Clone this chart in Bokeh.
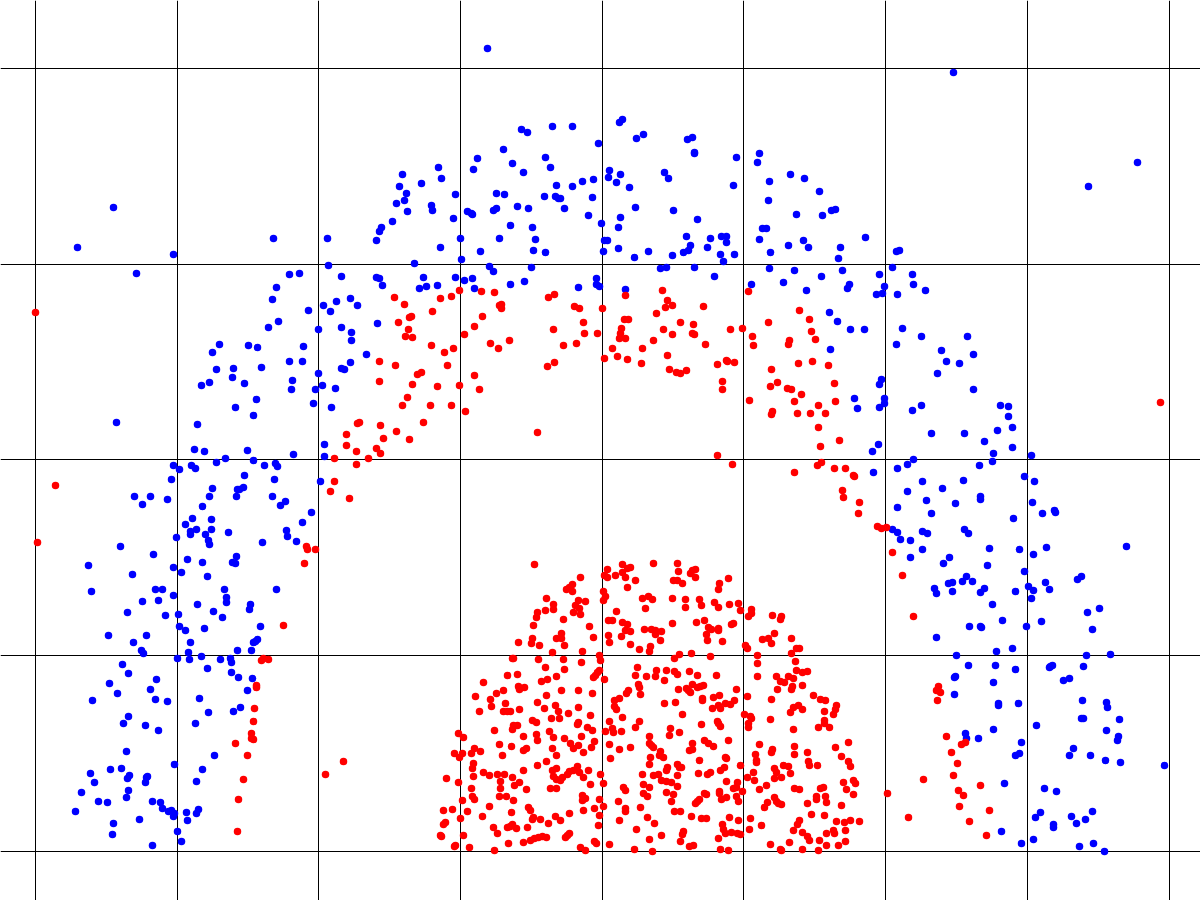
from bokeh.plotting import figure
from bokeh.models import Range1d, FixedTicker
from bokeh.embed import file_html
from bokeh.resources import INLINE

x_ticks = [35, 177, 318, 460, 602, 743, 885, 1027, 1169]
y_ticks = [68, 264, 459, 655, 851]

blue_points = [
(113,207),(77,247),(173,254),(136,273),(273,238),(289,274),(299,273),(276,287),(272,299),(278,321),(268,327),
(487,48),(521,129),(527,132),(552,126),(572,126),(598,143),(503,149),(477,158),(473,169),(512,163),(523,172),(545,157),(550,167),
(438,167),(441,178),(402,174),(399,186),(421,183),(406,193),(404,200),(396,203),(407,211),(431,205),(432,210),(455,194),(453,218),(467,211),(471,213),(472,214),
(496,193),(504,194),(496,208),(493,210),(517,206),(528,208),(544,196),(555,196),(558,198),(560,198),(556,185),(572,186),(582,181),(593,179),(592,197),(564,208),(588,215),
(392,221),(381,227),(379,231),(376,240),(327,238),(460,238),(440,247),(461,259),(480,251),(499,238),(510,225),(532,227),(535,239),(533,250),(545,252),
(328,265),(414,263),(489,266),(493,271),(531,267),(341,276),(376,277),(379,278),(382,285),(423,277),(419,288),(426,286),(437,285),(455,277),(464,280),(472,278),(474,288),(510,284),(524,281),(596,278),(596,284),(599,286),(578,287),
(336,301),(350,298),(357,305),(323,305),(330,311),(308,310),(318,329),(341,327),(377,323),
(619,122),(622,119),(636,138),(643,134),(687,139),(692,137),(694,152),(694,153),(736,157),(759,153),(757,162),(790,174),(804,178),(769,181),(819,191),(768,200),(733,185),(664,172),(668,178),(609,170),(608,177),(620,174),(616,182),(629,187),(635,207),(673,210),(697,219),(620,217),(618,227),(601,223),
(796,214),(822,215),(831,210),(835,209),(762,228),(766,228),(759,239),(803,240),(788,245),(808,247),(770,252),(840,247),(865,237),(838,258),(896,251),(899,250),
(604,240),(607,240),(603,251),(618,248),(634,257),(648,251),(672,255),(683,252),(688,250),(690,245),(686,236),(710,238),(707,247),(721,236),(726,236),(726,242),(720,254),(734,254),(723,261),
(660,268),(666,267),(694,267),(714,276),(769,268),(794,270),(821,276),(842,270),(879,274),(892,267),(783,282),(751,284),(806,290),(849,284),(847,288),(884,286),(882,293),(876,294),(897,294),(625,289),
(829,312),(837,321),(850,329),(864,329),(902,328),
(953,72),(1137,162),(1088,186),(912,274),(913,284),(925,290),
(219,344),(212,352),(248,345),(257,347),(289,361),(302,361),(303,346),(261,367),(233,368),(216,369),(232,377),(209,382),(201,385),(244,383),(292,380),(291,389),(256,399),(235,407),(253,415),(197,424),(116,422),
(194,449),(204,451),(247,450),(293,454),(225,458),(216,462),(253,460),(264,465),(275,463),(277,466),(173,465),(179,469),(191,465),(195,468),(171,479),(244,475),(274,479),(212,488),(209,496),(243,487),(239,489),(237,489),(236,496),(272,496),(285,501),(280,505),(134,496),(150,496),(142,504),(167,499),(202,506),
(211,519),(192,518),(185,524),(196,529),(190,531),(190,534),(211,529),(205,534),(208,540),(209,544),(228,532),(176,537),(286,530),(287,536),(296,541),(262,542),(302,522),
(120,546),(153,554),(88,565),(187,559),(202,562),(236,556),(232,562),(235,563),(173,567),(181,572),(132,574),(207,576),(91,591),(155,589),(162,589),(173,595),(142,601),(158,600),(224,589),(226,597),(226,602),(197,604),(250,604),(249,609),(276,589),(213,611),(222,617),(127,612),(165,615),(178,614),(179,626),(204,628),(260,626),(185,630),
(351,332),(351,340),(366,354),(350,362),(341,368),(344,369),(318,373),(322,385),(315,389),(335,388),(313,403),(331,407),(324,444),(324,456),(320,481),(311,512),
(830,349),(896,344),(881,379),(879,384),(854,398),(884,398),(884,403),(879,407),(857,408),(878,444),(872,451),(873,472),(897,468),(897,507),(892,529),(897,532),(900,539),
(921,336),(967,336),(941,350),(973,354),(946,361),(959,363),(937,373),(973,389),(921,405),(912,410),(1000,405),(1008,406),(1008,416),(1012,427),(997,430),(931,433),(964,433),(984,441),(1012,447),(993,453),(1031,455),(913,459),(907,464),(992,461),(979,465),
(1024,476),(1034,481),(922,481),(963,480),(942,488),(907,491),(926,500),(955,503),(980,496),(980,499),(1032,502),(1042,513),(1054,510),(1055,512),(931,513),(1013,518),(1126,546),
(922,531),(927,533),(964,529),(968,533),(910,540),(922,549),(989,548),(1019,549),(1046,547),(1033,554),(910,557),(949,557),(943,563),(987,565),(1024,571),(966,576),(962,581),(972,581),(948,583),(952,582),(934,588),(936,593),(952,591),(984,588),(980,592),(1015,591),(1028,586),(1033,590),(1045,582),(1049,589),(1031,598),(992,604),(1077,579),(1081,576),(1087,612),(1099,608),(1002,620),(1041,621),(969,626),(980,626),(981,627),(1026,626),(1092,629),
(936,637),(1012,648),(996,651),(956,655),(1086,655),(1110,654),(968,665),(995,665),(1015,669),(1049,667),(1052,665),(1050,666),(1083,666),(1069,678),(1063,680),(955,676),(954,677),(993,682),(954,694),(998,703),(998,705),(1018,703),(1082,700),(1106,702),(1107,707),(1081,718),(1083,718),(1119,719),(1036,725),(1106,730),(993,729),(965,733),(966,738),(978,738),(1118,736),(1117,740),(1021,742),(1073,748),(1019,753),(1015,755),(1069,755),(1090,755),(1105,760),(1120,762),(1164,765),(1004,783),(1044,788),(1056,791),(1040,812),(1035,817),(1092,811),(1071,816),(1085,819),(1076,823),(1053,824),(1053,827),(1001,831),(1033,839),(1021,843),(1093,843),(1079,846),(1104,851),
(108,635),(146,635),(133,642),(190,642),(141,650),(143,653),(188,652),(201,656),(177,658),(189,659),(237,650),(251,650),(253,642),(255,641),(257,639),(220,659),(230,658),(231,662),(122,664),(207,668),(128,673),(231,672),(238,677),(252,678),(156,679),(109,683),(150,689),(247,690),(117,693),(92,700),(155,699),(167,701),(199,698),(240,707),(233,711),(208,712),(128,716),(123,723),(145,725),(158,730),(195,723),(126,751),(214,755),(174,764),(121,768),(110,769),(202,769),(90,773),(129,775),(127,778),(147,776),(146,777),(145,782),(94,782),(196,781),(81,792),(128,790),(126,797),(98,801),(107,802),(152,801),(160,802),(162,808),(168,811),(171,810),(174,813),(173,816),(186,812),(198,809),(196,813),(187,820),(75,811),(113,823),(139,819),(112,834),(177,831),(181,841),(152,845),
]

red_points = [
(35,312),(394,297),(404,304),(440,298),(451,296),(459,290),(481,291),(494,292),(501,304),(499,305),(501,308),(548,297),(554,294),(574,306),(579,308),(583,322),(432,311),(411,316),(409,317),(398,322),(408,329),(482,316),(474,326),(553,329),
(662,290),(625,295),(667,300),(672,305),(665,307),(602,308),(656,313),(703,306),(748,291),(799,310),(809,319),(624,319),(628,319),(680,322),(693,324),(621,328),(663,329),(730,329),(742,328),(768,322),(811,331),
(55,485),(37,542),(283,625),
(405,336),(412,337),(431,345),(444,352),(453,348),(464,334),(490,343),(498,348),(509,340),(584,333),(597,333),(576,343),(563,345),(554,362),(547,366),(379,361),(395,365),(447,365),(421,372),(417,374),(474,375),(379,381),(412,384),(437,386),(459,385),(479,389),(407,397),(402,405),(430,405),(451,405),(465,411),(357,423),(359,422),(380,425),(423,422),(396,431),(346,434),(383,438),(409,439),(346,445),(376,448),(356,451),(380,453),(334,458),(368,458),(356,464),(334,481),(330,491),(349,498),(537,432),(306,546),(307,549),(315,549),(304,563),
(620,333),(619,338),(625,338),(612,348),(642,348),(653,340),(672,334),(692,333),(694,334),(705,344),(752,336),(753,345),(789,340),(788,344),(815,339),
(604,358),(617,356),(627,359),(641,363),(667,355),(669,369),(676,372),(680,373),(686,370),(717,364),(726,360),(727,361),(734,362),(771,369),(798,363),(812,361),(828,365),(722,381),(722,389),(777,382),(770,386),(834,383),(787,388),(791,389),(801,394),(749,400),(794,401),(835,401),(818,405),(772,411),(771,414),(797,413),(810,413),(825,413),(818,427),(839,440),(820,446),(717,455),(732,464),(817,465),(821,462),(794,472),(834,468),(845,468),(853,475),(854,476),(842,490),(843,497),(859,502),(858,513),(877,526),(881,528),(886,527),(892,552),(902,575),
(1160,402),(913,616),
(938,686),(936,690),(940,692),(937,700),(946,736),(961,744),(965,742),(951,752),(957,763),(953,775),(923,779),(980,785),(958,790),(963,795),(887,793),(959,806),(989,810),(908,817),(969,821),(986,835),
(263,658),(261,660),(268,659),(256,685),(256,687),(254,708),(253,721),(251,733),(251,738),(253,739),(235,743),(247,755),(243,779),(238,799),(237,831),(325,774),(343,761),
(534,564),(607,569),(622,564),(627,568),(630,567),(622,572),(625,577),(615,575),(604,575),(607,577),(580,577),(635,580),(627,587),(572,584),(569,587),(566,589),(572,591),(603,591),(605,596),(603,600),(546,598),(578,600),(585,601),(553,604),(575,605),(579,608),(553,609),(545,610),(537,612),(573,612),(580,614),(536,617),(563,619),(616,611),
(533,625),(589,626),(608,620),(612,620),(622,622),(627,624),(625,630),(630,631),(608,635),(621,636),(609,642),(630,644),(639,649),(561,633),(556,638),(561,638),(593,637),(532,638),(518,642),(531,643),(539,645),(564,645),(552,652),(582,651),(599,655),(600,660),(512,658),(513,658),(538,659),(563,659),(581,662),(545,667),(564,669),(637,667),(599,670),(597,672),(595,675),(593,677),(635,675),(604,679),(507,675),(517,674),(556,676),(547,679),(541,681),(483,682),(518,686),(524,687),(519,689),(638,684),(639,687),
(503,690),(496,693),(561,690),(578,690),(592,693),(628,690),(626,693),(640,694),(475,696),(546,695),(490,699),(614,700),(619,698),(505,703),(537,702),(491,706),(555,705),(578,707),(614,706),(544,708),(479,711),(503,711),(507,711),(510,711),(519,709),(558,711),(568,713),(590,715),(616,709),(551,718),(559,718),(622,717),(532,720),(536,722),(609,721),(639,721),(578,722),(577,724),(513,725),(517,725),(512,729),(494,730),(587,727),(592,730),(612,728),(613,732),(635,727),(605,731),(621,731),(549,731),(536,734),(523,736),(553,737),(537,740),(564,738),(581,736),(594,741),
(458,733),(463,737),(499,744),(511,746),(570,743),(573,748),(578,745),(591,747),(609,744),(619,749),(630,747),(552,748),(526,748),(523,750),(474,748),(471,753),(480,751),(454,753),(462,753),(459,757),(502,755),(556,755),(583,752),(610,758),
(473,763),(472,768),(546,761),(537,765),(473,776),(483,772),(489,775),(497,774),(504,774),(523,770),(500,781),(512,777),(519,782),(514,785),(500,788),(526,789),(552,770),(556,768),(553,776),(556,779),(560,780),(562,777),(567,774),(569,771),(573,770),(577,766),(579,772),(583,777),(588,770),(600,774),(603,783),(590,784),(550,788),(556,788),(446,778),(458,782),(471,788),(623,787),(625,790),
(472,796),(474,799),(462,800),(499,796),(506,796),(513,800),(582,795),(585,798),(582,800),(599,799),(618,801),(443,810),(452,809),(467,811),(489,806),(528,807),(530,810),(511,812),(583,810),(569,813),(594,808),(603,806),(625,808),(625,811),(640,807),(482,816),(460,818),(533,817),(532,819),(540,819),(555,816),(560,820),(599,815),(619,820),(445,822),(443,824),(548,823),(598,825),(493,827),(507,827),(512,824),(510,826),(516,828),(527,827),(497,833),(636,829),(440,835),(441,836),(463,835),(569,833),(567,835),(565,837),(530,840),(534,838),(538,837),(542,836),(546,837),(523,842),(508,843),(594,841),(596,843),(609,844),(455,845),(454,846),(469,847),(494,850),(580,847),(585,850),(634,849),
(653,563),(677,563),(678,571),(690,573),(692,570),(695,569),(695,577),(673,580),(677,580),(682,583),(728,578),(719,583),(718,589),
(642,598),(648,596),(652,599),(672,598),(685,599),(699,599),(701,605),(685,607),(645,608),(714,602),(718,607),(729,604),(738,603),(740,610),(751,609),(751,613),(748,616),(772,615),(781,616),(780,619),
(672,623),(696,622),(704,620),(708,627),(711,629),(718,628),(718,630),(733,623),(731,624),(644,629),(651,629),(655,630),(661,631),(655,634),(706,634),(774,633),(660,640),(707,640),(722,641),(762,639),(768,638),(771,643),(791,638),(650,646),(649,651),(745,645),(747,648),(796,648),(799,648),(691,653),(679,654),(674,658),(710,656),(757,655),(791,653),(757,663),(795,661),
(656,670),(666,670),(674,671),(677,674),(689,671),(697,675),(655,676),(646,676),(716,675),(757,676),(796,670),(802,672),(807,671),(776,676),(788,676),(793,678),(664,680),(780,681),(784,682),(777,689),(792,686),(791,689),(802,685),
(692,684),(686,688),(688,690),(690,692),(697,687),(700,686),(703,685),(678,689),(736,689),(702,698),(702,700),(713,697),(719,695),(747,696),(771,699),(813,695),(820,699),(825,700),(734,700),(725,703),(730,704),(718,705),(720,708),(712,708),(664,703),(675,702),(798,705),(793,707),(790,712),(802,709),(836,705),(835,709),(824,711),(833,714),(682,714),(744,714),(750,716),(751,718),(770,719),(748,723),(748,727),(824,720),(824,723),(818,727),(829,727),(793,729),(701,724),(717,721),(718,723),(720,726),(670,728),(679,732),(669,735),(649,736),
(728,740),(692,743),(704,740),(708,743),(713,746),(759,744),(794,746),(848,742),(835,747),(649,743),(651,745),(653,747),(689,750),(692,749),(772,749),(771,752),(755,754),(807,752),(794,754),(841,756),(660,751),(659,755),(663,757),(650,757),(699,760),(725,757),(726,758),(756,760),(756,762),(808,761),(848,761),(850,766),(809,765),(817,765),(783,765),(788,766),(649,764),(677,764),(679,767),(681,767),(667,767),(666,770),(740,765),(724,767),(720,770),(774,768),(776,772),(753,772),(790,773),(642,774),(658,774),(653,775),(677,775),(698,773),(707,774),(710,772),
(747,777),(754,780),(774,778),(781,777),(661,780),(666,781),(671,782),(726,781),(737,782),(643,784),(649,787),(677,786),(843,782),(853,780),(855,783),(733,788),(736,787),(759,789),(766,785),(794,788),(799,789),(820,788),(823,787),(846,789),(666,792),(643,793),(647,796),(673,794),(704,793),(706,794),(719,791),(719,793),(742,791),(736,796),(738,801),(726,797),(721,799),(774,797),(776,801),(767,802),(816,796),(816,799),(825,796),(853,794),(671,801),(699,799),(697,801),(695,803),(807,803),(826,802),(764,807),(781,804),(778,803),(841,805),
(674,811),(680,811),(811,814),(824,815),(647,817),(691,816),(701,818),(706,818),(729,817),(738,820),(750,818),(654,823),(722,824),(799,820),(797,824),(836,821),(844,822),(850,820),(859,821),(761,825),(723,829),(749,829),(793,830),(683,831),(682,834),(725,833),(731,832),(737,833),(740,834),(802,832),(833,830),(845,830),(826,833),(834,833),(661,835),(807,836),(718,838),(649,839),(680,841),(809,840),(819,840),(789,842),(845,841),(770,844),(826,845),(838,845),(689,846),(693,845),(720,849),(728,850),(652,851),(780,849),(781,850),(802,849),(818,850),
]

p = figure(width=1200, height=900, output_backend="svg", toolbar_location=None,
           x_range=Range1d(0, 1200), y_range=Range1d(900, 0), min_border=0)
p.xaxis.visible = False
p.yaxis.visible = False
p.outline_line_color = None
p.xgrid.ticker = FixedTicker(ticks=x_ticks)
p.ygrid.ticker = FixedTicker(ticks=y_ticks)
for g in (p.xgrid, p.ygrid):
    g.grid_line_color = "black"
    g.grid_line_width = 1
    g.grid_line_alpha = 1

for pts, col in ((blue_points, "#0000ff"), (red_points, "#ff0000")):
    xs = [a for a, b in pts]
    ys = [b for a, b in pts]
    p.scatter(xs, ys, size=7.5, color=col, line_color=None)

open("out.html", "w").write(file_html(p, INLINE))
